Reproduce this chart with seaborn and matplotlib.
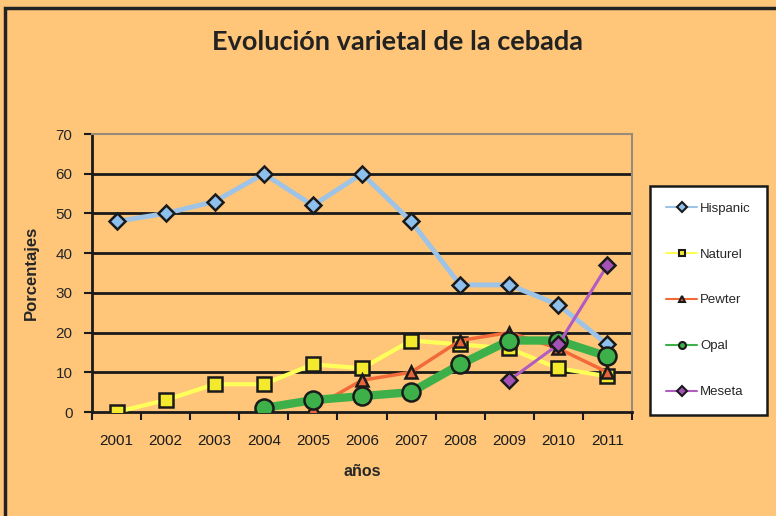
import matplotlib
matplotlib.use("Agg")
import matplotlib.pyplot as plt
from matplotlib.lines import Line2D
from matplotlib.patches import Rectangle
import seaborn as sns
import pandas as pd

years = list(range(2001, 2012))
hispanic = [48, 50, 53, 60, 52, 60, 48, 32, 32, 27, 17]
naturel = [0, 3, 7, 7, 12, 11, 18, 17, 16, 11, 9]
pewter_years = list(range(2005, 2012))
pewter = [1, 8, 10, 18, 20, 16, 10]
opal_years = list(range(2004, 2012))
opal = [1, 3, 4, 5, 12, 18, 18, 14]
meseta_years = [2009, 2010, 2011]
meseta = [8, 17, 37]

series_names = ["Hispanic", "Naturel", "Pewter", "Opal", "Meseta"]
y_ticks = [0, 10, 20, 30, 40, 50, 60, 70]

bg = "#FFC67A"
sns.set_theme(style="white")
plt.rcParams["font.family"] = ["Liberation Sans", "DejaVu Sans"]

fig = plt.figure(figsize=(7.76, 5.16), dpi=100, facecolor=bg)
ax = fig.add_axes([92 / 776, 1 - 412 / 516, (632 - 92) / 776, (412 - 134) / 516])
ax.set_facecolor(bg)

styles = {
    "Hispanic": dict(line="#9DC3E6", mfc="#8EC0EE", marker="D", lw=3.5, ms=8),
    "Naturel": dict(line="#FFFF5A", mfc="#F3EA2E", marker="s", lw=3.0, ms=10),
    "Pewter": dict(line="#F26A3A", mfc="#E8653C", marker="^", lw=2.5, ms=9),
    "Opal": dict(line="#3DB04A", mfc="#3DB04A", marker="o", lw=6.0, ms=13),
    "Meseta": dict(line="#B05CC0", mfc="#A552B5", marker="D", lw=2.2, ms=8),
}
data = {
    "Hispanic": (years, hispanic),
    "Naturel": (years, naturel),
    "Pewter": (pewter_years, pewter),
    "Opal": (opal_years, opal),
    "Meseta": (meseta_years, meseta),
}

for name in series_names:
    xs, ys = data[name]
    st = styles[name]
    df = pd.DataFrame({"year": xs, "value": ys})
    sns.lineplot(data=df, x="year", y="value", ax=ax, color=st["line"], lw=st["lw"],
                 marker=st["marker"], markersize=st["ms"], markerfacecolor=st["mfc"],
                 markeredgecolor="#1a1a1a", markeredgewidth=1.8, zorder=3)

ax.set_xlim(2000.5, 2011.5)
ax.set_ylim(0, 70)
ax.set_yticks(y_ticks)
ax.set_xticks(years)
ax.set_xticks([y + 0.5 for y in range(2000, 2012)], minor=True)
ax.tick_params(axis="x", which="major", length=0, pad=16, labelsize=11, colors="#1a1a1a")
ax.tick_params(axis="x", which="minor", length=6, width=1.5, direction="out", color="#1a1a1a", bottom=True)
ax.tick_params(axis="y", length=6, width=1.5, direction="out", color="#1a1a1a", left=True, labelsize=11, pad=8)
for yv in y_ticks[1:-1]:
    ax.axhline(yv, color="#1a1a1a", lw=2.0, zorder=1)

for s in ["left", "bottom"]:
    ax.spines[s].set_color("#1a1a1a")
    ax.spines[s].set_linewidth(2)
for s in ["top", "right"]:
    ax.spines[s].set_color("#9a8a78")
    ax.spines[s].set_linewidth(1.5)

ax.set_xlabel("años", fontsize=11.5, fontweight="bold", labelpad=11)
ax.set_ylabel("Porcentajes", fontsize=12, fontweight="bold", labelpad=12)

handles = []
for name in series_names:
    st = styles[name]
    handles.append(Line2D([0], [0], color=st["line"], lw=1.5, marker=st["marker"], markersize=5,
                          markerfacecolor=st["mfc"], markeredgecolor="#1a1a1a", markeredgewidth=1.5))
leg = fig.legend(handles, series_names, loc="upper left",
                 bbox_to_anchor=(650 / 776, 1 - 186 / 516), frameon=True, fancybox=False,
                 fontsize=9.5, labelspacing=2.55, handlelength=2.3, borderpad=1.25, handletextpad=0.25,
                 borderaxespad=0, framealpha=1)
leg.get_frame().set_edgecolor("#1a1a1a")
leg.get_frame().set_linewidth(1.8)
leg.get_frame().set_facecolor("white")

fig.text(398 / 776, 1 - 42 / 516, "Evolución varietal de la cebada", ha="center", va="center",
         fontsize=19.5, fontweight="bold", family=["Lato", "DejaVu Sans"], color="#222222")

fig.patches.append(Rectangle((5 / 776, -0.1), 1.2, 1 - 8 / 516 + 0.1, transform=fig.transFigure,
                             fill=False, edgecolor="#222222", lw=2.5, zorder=10))

fig.savefig("out.png", dpi=100, facecolor=bg)
